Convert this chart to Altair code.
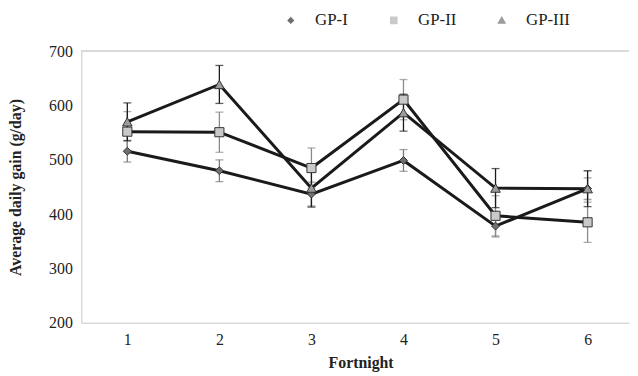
import altair as alt
import pandas as pd

fortnights = [1, 2, 3, 4, 5, 6]
groups = ["GP-I", "GP-II", "GP-III"]
gp1 = [516, 480, 437, 499, 378, 447]
gp2 = [552, 551, 485, 611, 397, 385]
gp3 = [570, 639, 448, 587, 448, 447]
err1 = [20, 20, 22, 20, 20, 20]
err2 = [37, 37, 37, 37, 37, 37]
err3 = [35, 35, 35, 34, 36, 33]

marker_fill = ["#6f6f6f", "#c9c9c9", "#9c9c9c"]
err_color = ["#7a7a7a", "#8a8a8a", "#1a1a1a"]
marker_shape = ["diamond", "square", "triangle-up"]
marker_size = [64, 85, 95]
legend_paths = [
    "M-4,0H-0.8M0.8,0H4M0,-0.8L0.8,0L0,0.8L-0.8,0Z",
    "M-4,0H-0.85M0.85,0H4M-0.85,-0.85H0.85V0.85H-0.85Z",
    "M-4,0H-1M1,0H4M0,-1L1,0.75H-1Z",
]

rows = []
for g, vals, errs in zip(groups, [gp1, gp2, gp3], [err1, err2, err3]):
    for f, v, e in zip(fortnights, vals, errs):
        rows.append({"group": g, "fortnight": f, "value": v, "lo": v - e, "hi": v + e})
df = pd.DataFrame(rows)

FONT = "Liberation Serif"
W, H = 553, 274

xs = alt.Scale(domain=[0.5, 6.45], zero=False, nice=False)
ys = alt.Scale(domain=[200, 700], zero=False, nice=False)

x = alt.X("fortnight:Q", scale=xs,
          axis=alt.Axis(values=fortnights, format="d", title="Fortnight",
                        titleX=282, titleY=40, titleBaseline="middle"))
y = alt.Y("value:Q", scale=ys,
          axis=alt.Axis(values=[200, 300, 400, 500, 600, 700], title="Average daily gain (g/day)",
                        titleX=-66, titleY=H / 2, titleBaseline="middle", titleAngle=-90))

base = alt.Chart(df)

top_line = base.mark_rule(color="#d9d9d9", strokeWidth=1.5).encode(y=alt.datum(700, scale=ys))

lines = base.mark_line(color="#1a1a1a", strokeWidth=3).encode(
    x=x, y=y, detail="group:N", order="fortnight:Q")

err_layers = []
for g, col in zip(groups, err_color):
    sub = base.transform_filter(alt.datum.group == g)
    err_layers.append(sub.mark_rule(strokeWidth=1.3, color=col).encode(
        x=alt.X("fortnight:Q", scale=xs), y=alt.Y("lo:Q", scale=ys), y2="hi:Q"))
    err_layers.append(sub.mark_tick(orient="horizontal", size=8, thickness=1.3, color=col).encode(
        x=alt.X("fortnight:Q", scale=xs), y=alt.Y("lo:Q", scale=ys)))
    err_layers.append(sub.mark_tick(orient="horizontal", size=8, thickness=1.3, color=col).encode(
        x=alt.X("fortnight:Q", scale=xs), y=alt.Y("hi:Q", scale=ys)))

point_layers = []
for g, fill, shp, sz in zip(groups, marker_fill, marker_shape, marker_size):
    point_layers.append(
        base.transform_filter(alt.datum.group == g).mark_point(
            shape=shp, filled=True, fill=fill, stroke="#333333", strokeWidth=1,
            size=sz, opacity=1).encode(x=alt.X("fortnight:Q", scale=xs), y=alt.Y("value:Q", scale=ys)))

leg = alt.Legend(orient="none", legendX=203, legendY=-40, direction="horizontal", title=None,
                 labelFont=FONT, labelFontSize=17, labelColor="#222222",
                 symbolSize=81, symbolStrokeColor="#1a1a1a", symbolStrokeWidth=1.6,
                 symbolOpacity=1, labelOffset=16, columnPadding=24, padding=0)
legend_layer = base.mark_point(filled=True, size=81, opacity=0, stroke="#1a1a1a", strokeWidth=1.6).encode(
    x=alt.X("fortnight:Q", scale=xs), y=alt.Y("value:Q", scale=ys),
    shape=alt.Shape("group:N", scale=alt.Scale(domain=groups, range=legend_paths), legend=leg),
    fill=alt.Fill("group:N", scale=alt.Scale(domain=groups, range=marker_fill), legend=leg))

chart = alt.layer(top_line, lines, *err_layers, *point_layers, legend_layer).properties(
    width=W, height=H,
    padding={"left": 0, "top": 2, "right": 0, "bottom": 0},
).configure_view(stroke=None).configure_axis(
    grid=False, ticks=False, domainColor="#d9d9d9", domainWidth=1.5,
    labelFont=FONT, labelFontSize=16, labelColor="#222222", labelPadding=9,
    titleFont=FONT, titleFontSize=16, titleFontWeight="bold", titleColor="#222222",
)

chart.save("out.html", embed_options={"renderer": "svg", "actions": False})
